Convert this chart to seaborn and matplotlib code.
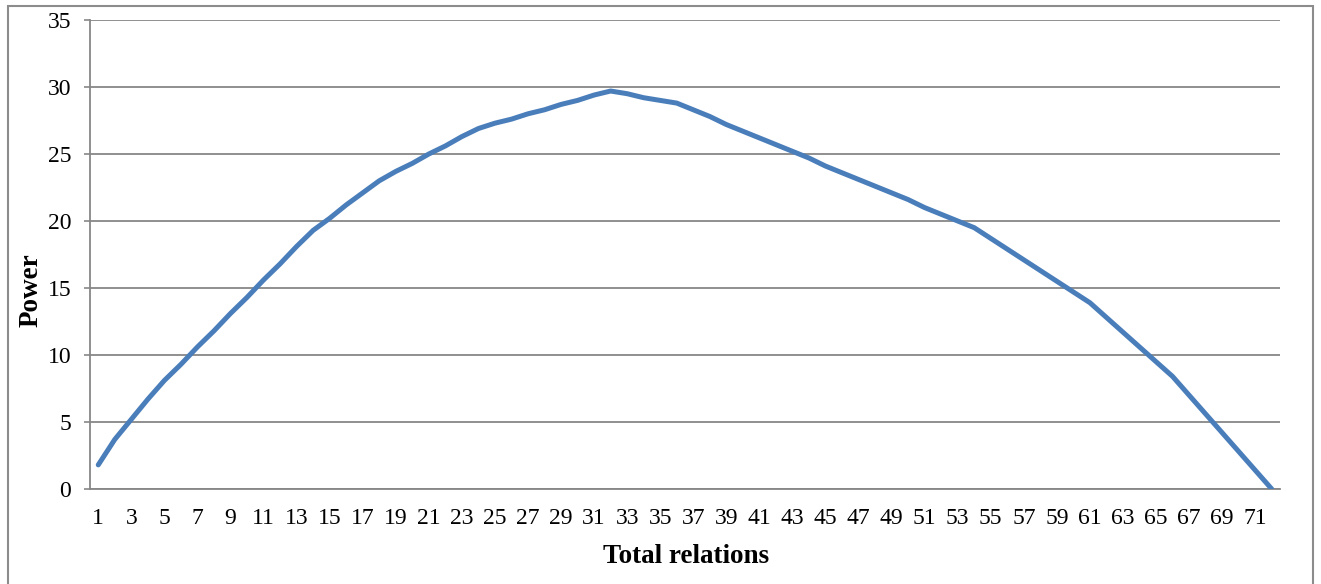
import matplotlib
matplotlib.use("Agg")
import matplotlib.pyplot as plt
from matplotlib.patches import Rectangle
import pandas as pd
import seaborn as sns

# total relations (categories 1..72)
relations = list(range(1, 73))
# power values
power = [
    1.8, 3.7, 5.2, 6.7, 8.1, 9.3, 10.6, 11.8, 13.1, 14.3,
    15.6, 16.8, 18.1, 19.3, 20.2, 21.2, 22.1, 23.0, 23.7, 24.3,
    25.0, 25.6, 26.3, 26.9, 27.3, 27.6, 28.0, 28.3, 28.7, 29.0,
    29.4, 29.7, 29.5, 29.2, 29.0, 28.8, 28.3, 27.8, 27.2, 26.7,
    26.2, 25.7, 25.2, 24.7, 24.1, 23.6, 23.1, 22.6, 22.1, 21.6,
    21.0, 20.5, 20.0, 19.5, 18.7, 17.9, 17.1, 16.3, 15.5, 14.7,
    13.9, 12.8, 11.7, 10.6, 9.5, 8.4, 7.0, 5.6, 4.2, 2.8,
    1.4, 0.0,
]
x_ticks = list(range(1, 72, 2))
y_ticks = [0, 5, 10, 15, 20, 25, 30, 35]

df = pd.DataFrame({"relations": relations, "power": power})

sns.set_theme(style="white")
plt.rcParams["font.family"] = ["Liberation Serif", "DejaVu Serif"]
plt.rcParams["text.color"] = "black"

W, H = 1321, 584
fig = plt.figure(figsize=(W / 100, H / 100), dpi=100)
ax = fig.add_axes([90 / W, (H - 489) / H, (1280 - 90) / W, (489 - 20) / H])

grey = "#878787"
sns.lineplot(data=df, x="relations", y="power", ax=ax,
             color="#4A7EBB", linewidth=3.6, zorder=3)

ax.set_xlim(0.5, 72.5)
ax.set_ylim(0, 35)
ax.set_xticks(x_ticks)
ax.set_yticks(y_ticks)
ax.tick_params(axis="x", length=0, pad=14, labelsize=17, colors="black")
ax.tick_params(axis="y", length=4.5, width=1.2, color=grey, direction="out",
               left=True, pad=9, labelsize=17, labelcolor="black")

ax.yaxis.grid(True, color=grey, linewidth=1.3)
ax.xaxis.grid(False)
for s in ["top", "right"]:
    ax.spines[s].set_visible(False)
for s in ["left", "bottom"]:
    ax.spines[s].set_color(grey)
    ax.spines[s].set_linewidth(1.3)

ax.set_xlabel("Total relations", fontsize=19.5, fontweight="bold", color="black")
ax.set_ylabel("Power", fontsize=19.5, fontweight="bold", color="black")
ax.xaxis.set_label_coords(0.5008, -0.117)
ax.yaxis.set_label_coords(-0.039, 0.424)

# outer chart-area border
fig.patches.append(Rectangle((8 / W, -0.1), (1313 - 8) / W, 0.1 + (H - 6) / H,
                             transform=fig.transFigure, fill=False,
                             edgecolor="#8c8c8c", linewidth=1.5))

fig.savefig("out.png", dpi=100)
